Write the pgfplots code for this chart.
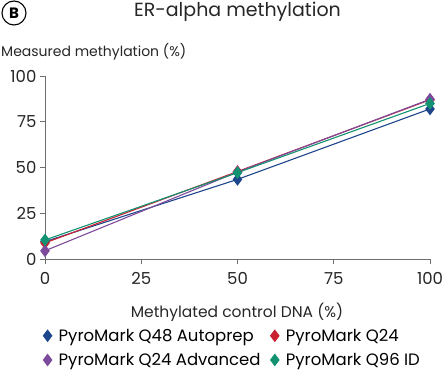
\documentclass[border=0pt]{standalone}
\usepackage{pgfplots}
\pgfplotsset{compat=1.18}
\usepackage{fontspec}
\setmainfont{Poppins}
\definecolor{cblue}{RGB}{30,70,140}
\definecolor{cred}{RGB}{200,32,48}
\definecolor{cpurple}{RGB}{125,75,155}
\definecolor{cgreen}{RGB}{18,146,112}
\definecolor{axgray}{RGB}{110,110,110}
\begin{document}
\begin{tikzpicture}
\useasboundingbox (-45pt,-116pt) rectangle (401pt,259pt);
\begin{axis}[
  scale only axis, width=385pt, height=183pt,
  xmin=0, xmax=100, ymin=0, ymax=100,
  axis lines*=left,
  axis line style={axgray, line width=0.8pt},
  tick style={axgray, line width=0.8pt},
  tick align=outside, major tick length=5pt,
  xtick={0,25,50,75,100}, ytick={0,25,50,75,100},
  /pgf/number format/assume math mode=true,
  tick label style={font=\fontsize{16.5}{18}\selectfont, text=black!85},
  xticklabel style={yshift=-5pt},
  clip=false,
  legend columns=2,
  legend cell align=left,
  legend style={at={(-0.01,-0.37)}, anchor=north west, draw=none, fill=none,
    font=\fontsize{16.5}{19}\selectfont, row sep=6.5pt, inner sep=0pt,
    /tikz/every even column/.append style={column sep=6pt}},
  legend image code/.code={\path (0cm,0cm) (0.5cm,0cm); \draw[#1] plot[only marks] coordinates {(0.2cm,0cm)};},
  every axis plot/.append style={line width=1.1pt, mark=diamond*, mark size=5.5pt},
]
\addplot[cblue, mark options={fill=cblue}] coordinates {(0,9.5) (50,43.5) (100,82)};
\addlegendentry{PyroMark Q48 Autoprep}
\addplot[cred, mark options={fill=cred}] coordinates {(0,8.8) (50,47.8) (100,87)};
\addlegendentry{PyroMark Q24}
\addplot[cpurple, mark options={fill=cpurple}] coordinates {(0,4.5) (50,47.5) (100,87.3)};
\addlegendentry{PyroMark Q24 Advanced}
\addplot[cgreen, mark options={fill=cgreen}] coordinates {(0,10.4) (50,47.2) (100,85)};
\addlegendentry{PyroMark Q96 ID}
\end{axis}
\begin{scope}[shift={(-45pt,-116pt)}, x=1pt, y=1pt]
\node[font=\fontsize{19}{22}\selectfont, text=black!85] at (237.5,363) {ER-alpha methylation};
\node[draw=black, line width=1.1pt, circle, inner sep=0pt, minimum size=24pt, font=\bfseries\fontsize{15}{18}\selectfont] at (14,362) {B};
\node[anchor=base west, font=\fontsize{14}{16}\selectfont, text=black!85, inner sep=0pt] at (1,318) {Measured methylation (\%)};
\node[font=\fontsize{15.5}{18}\selectfont, text=black!85] at (237,63) {Methylated control DNA (\%)};
\end{scope}
\end{tikzpicture}
\end{document}
